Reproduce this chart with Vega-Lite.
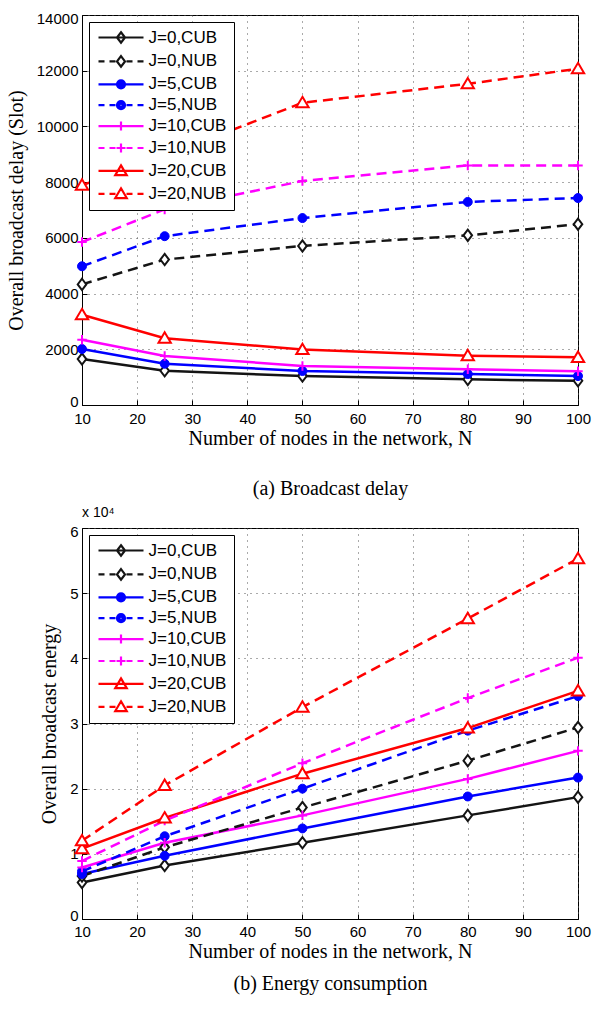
{
  "$schema": "https://vega.github.io/schema/vega-lite/v6.json",
  "background": "white",
  "padding": {"left": 5, "top": 10, "right": 10, "bottom": 5},
  "spacing": 6,
  "resolve": {"scale": {"stroke": "independent", "shape": "independent", "color": "independent"}},
  "config": {
    "font": "Liberation Sans",
    "view": {"stroke": "#000", "strokeWidth": 1},
    "axis": {
      "domainColor": "#000", "domainWidth": 1,
      "tickColor": "#000", "tickSize": -5, "tickWidth": 1,
      "labelPadding": 9, "labelFont": "Liberation Sans", "labelFontSize": 15, "labelColor": "#000", "labelFlush": false,
      "titleFont": "Liberation Serif", "titleFontSize": 20, "titleFontWeight": "normal", "titleColor": "#000",
      "gridColor": "#555", "gridDash": [1, 5], "gridOpacity": 1, "gridWidth": 1
    },
    "title": {"font": "Liberation Sans", "fontSize": 14, "fontWeight": "normal", "color": "#000"},
    "legend": {
      "orient": "top-left", "offset": 7, "title": null,
      "strokeColor": "#000", "fillColor": "#fff", "padding": 7,
      "labelFont": "Liberation Sans", "labelFontSize": 17, "labelColor": "#000",
      "symbolSize": 100, "symbolOffset": 16.5, "labelOffset": 19, "rowPadding": 2.9, "symbolStrokeWidth": 2.2
    }
  },
  "datasets": {
    "delay": [
      {"N": 10, "series": "J=0,CUB", "v": 1650}, {"N": 25, "series": "J=0,CUB", "v": 1230}, {"N": 50, "series": "J=0,CUB", "v": 1040}, {"N": 80, "series": "J=0,CUB", "v": 920}, {"N": 100, "series": "J=0,CUB", "v": 870},
      {"N": 10, "series": "J=0,NUB", "v": 4330}, {"N": 25, "series": "J=0,NUB", "v": 5220}, {"N": 50, "series": "J=0,NUB", "v": 5710}, {"N": 80, "series": "J=0,NUB", "v": 6090}, {"N": 100, "series": "J=0,NUB", "v": 6490},
      {"N": 10, "series": "J=5,CUB", "v": 2010}, {"N": 25, "series": "J=5,CUB", "v": 1480}, {"N": 50, "series": "J=5,CUB", "v": 1220}, {"N": 80, "series": "J=5,CUB", "v": 1110}, {"N": 100, "series": "J=5,CUB", "v": 1040},
      {"N": 10, "series": "J=5,NUB", "v": 4980}, {"N": 25, "series": "J=5,NUB", "v": 6060}, {"N": 50, "series": "J=5,NUB", "v": 6710}, {"N": 80, "series": "J=5,NUB", "v": 7290}, {"N": 100, "series": "J=5,NUB", "v": 7430},
      {"N": 10, "series": "J=10,CUB", "v": 2340}, {"N": 25, "series": "J=10,CUB", "v": 1760}, {"N": 50, "series": "J=10,CUB", "v": 1400}, {"N": 80, "series": "J=10,CUB", "v": 1280}, {"N": 100, "series": "J=10,CUB", "v": 1210},
      {"N": 10, "series": "J=10,NUB", "v": 5850}, {"N": 25, "series": "J=10,NUB", "v": 7020}, {"N": 50, "series": "J=10,NUB", "v": 8040}, {"N": 80, "series": "J=10,NUB", "v": 8600}, {"N": 100, "series": "J=10,NUB", "v": 8600},
      {"N": 10, "series": "J=20,CUB", "v": 3240}, {"N": 25, "series": "J=20,CUB", "v": 2400}, {"N": 50, "series": "J=20,CUB", "v": 1990}, {"N": 80, "series": "J=20,CUB", "v": 1770}, {"N": 100, "series": "J=20,CUB", "v": 1710},
      {"N": 10, "series": "J=20,NUB", "v": 7890}, {"N": 25, "series": "J=20,NUB", "v": 8930}, {"N": 50, "series": "J=20,NUB", "v": 10850}, {"N": 80, "series": "J=20,NUB", "v": 11530}, {"N": 100, "series": "J=20,NUB", "v": 12070}
    ],
    "energy": [
      {"N": 10, "series": "J=0,CUB", "v": 5600}, {"N": 25, "series": "J=0,CUB", "v": 8200}, {"N": 50, "series": "J=0,CUB", "v": 11700}, {"N": 80, "series": "J=0,CUB", "v": 15900}, {"N": 100, "series": "J=0,CUB", "v": 18700},
      {"N": 10, "series": "J=0,NUB", "v": 6600}, {"N": 25, "series": "J=0,NUB", "v": 11000}, {"N": 50, "series": "J=0,NUB", "v": 17100}, {"N": 80, "series": "J=0,NUB", "v": 24300}, {"N": 100, "series": "J=0,NUB", "v": 29400},
      {"N": 10, "series": "J=5,CUB", "v": 6900}, {"N": 25, "series": "J=5,CUB", "v": 9700}, {"N": 50, "series": "J=5,CUB", "v": 13900}, {"N": 80, "series": "J=5,CUB", "v": 18800}, {"N": 100, "series": "J=5,CUB", "v": 21700},
      {"N": 10, "series": "J=5,NUB", "v": 7300}, {"N": 25, "series": "J=5,NUB", "v": 12700}, {"N": 50, "series": "J=5,NUB", "v": 20000}, {"N": 80, "series": "J=5,NUB", "v": 28900}, {"N": 100, "series": "J=5,NUB", "v": 34200},
      {"N": 10, "series": "J=10,CUB", "v": 7900}, {"N": 25, "series": "J=10,CUB", "v": 11700}, {"N": 50, "series": "J=10,CUB", "v": 15900}, {"N": 80, "series": "J=10,CUB", "v": 21500}, {"N": 100, "series": "J=10,CUB", "v": 25800},
      {"N": 10, "series": "J=10,NUB", "v": 8900}, {"N": 25, "series": "J=10,NUB", "v": 15100}, {"N": 50, "series": "J=10,NUB", "v": 23900}, {"N": 80, "series": "J=10,NUB", "v": 33900}, {"N": 100, "series": "J=10,NUB", "v": 40100},
      {"N": 10, "series": "J=20,CUB", "v": 10800}, {"N": 25, "series": "J=20,CUB", "v": 15500}, {"N": 50, "series": "J=20,CUB", "v": 22300}, {"N": 80, "series": "J=20,CUB", "v": 29300}, {"N": 100, "series": "J=20,CUB", "v": 35000},
      {"N": 10, "series": "J=20,NUB", "v": 12000}, {"N": 25, "series": "J=20,NUB", "v": 20500}, {"N": 50, "series": "J=20,NUB", "v": 32500}, {"N": 80, "series": "J=20,NUB", "v": 46100}, {"N": 100, "series": "J=20,NUB", "v": 55300}
    ]
  },
  "vconcat": [
    {
      "width": 496,
      "height": 390,
      "data": {"name": "delay"},
      "encoding": {
        "x": {"field": "N", "type": "quantitative", "scale": {"domain": [10, 100], "nice": false},
              "axis": {"values": [10, 20, 30, 40, 50, 60, 70, 80, 90, 100], "labelPadding": 11, "title": ["Number of nodes in the network, N", "(a) Broadcast delay"], "titleLineHeight": 50, "titlePadding": 2, "grid": true}},
        "y": {"field": "v", "type": "quantitative", "scale": {"domain": [0, 14000], "nice": false},
              "axis": {"values": [0, 2000, 4000, 6000, 8000, 10000, 12000, 14000], "format": "d", "labelFlush": true, "labelFlushOffset": 4, "title": "Overall broadcast delay (Slot)", "titlePadding": 10, "grid": true}}
      },
      "layer": [
        {
          "transform": [{"filter": "indexof(datum.series, 'CUB') >= 0"}],
          "mark": {"type": "line", "strokeWidth": 2.5},
          "encoding": {
            "color": {"field": "series", "type": "nominal", "legend": null,
              "scale": {"domain": ["J=20,NUB", "J=20,CUB", "J=10,NUB", "J=10,CUB", "J=5,NUB", "J=5,CUB", "J=0,NUB", "J=0,CUB"],
                        "range": ["#ff0000", "#ff0000", "#ff00ff", "#ff00ff", "#0000ff", "#0000ff", "#141414", "#141414"]}}
          }
        },
        {
          "transform": [{"filter": "indexof(datum.series, 'NUB') >= 0"}],
          "mark": {"type": "line", "strokeWidth": 2.5, "strokeDash": [10, 6]},
          "encoding": {
            "color": {"field": "series", "type": "nominal", "legend": null}
          }
        },
        {
          "transform": [{"filter": "indexof(datum.series, 'J=0,') === 0"}],
          "mark": {"type": "point", "shape": "M0,-1.05L0.8,0L0,1.05L-0.8,0Z", "size": 115, "filled": false, "fill": "#ffffff", "stroke": "#141414", "strokeWidth": 2, "opacity": 1}
        },
        {
          "transform": [{"filter": "indexof(datum.series, 'J=5,') === 0"}],
          "mark": {"type": "point", "shape": "circle", "size": 80, "filled": true, "fill": "#0000ff", "stroke": "#0000ff", "strokeWidth": 1, "opacity": 1}
        },
        {
          "transform": [{"filter": "indexof(datum.series, 'J=10,') === 0"}],
          "mark": {"type": "point", "shape": "M-0.9,0H0.9M0,-0.9V0.9", "size": 110, "filled": false, "stroke": "#ff00ff", "strokeWidth": 2, "opacity": 1}
        },
        {
          "transform": [{"filter": "indexof(datum.series, 'J=20,') === 0"}],
          "mark": {"type": "point", "shape": "M0,-1.1L1.15,0.85L-1.15,0.85Z", "size": 115, "filled": false, "fill": "#ffffff", "stroke": "#ff0000", "strokeWidth": 2, "opacity": 1}
        },
        {
          "transform": [{"filter": "datum.N < 0"}],
          "mark": {"type": "point", "filled": false, "strokeWidth": 2.2, "opacity": 1},
          "encoding": {
            "stroke": {"field": "series", "type": "nominal",
              "scale": {"domain": ["J=0,CUB", "J=0,NUB", "J=5,CUB", "J=5,NUB", "J=10,CUB", "J=10,NUB", "J=20,CUB", "J=20,NUB"],
                        "range": ["#141414", "#141414", "#0000ff", "#0000ff", "#ff00ff", "#ff00ff", "#ff0000", "#ff0000"]}},
            "shape": {"field": "series", "type": "nominal",
              "scale": {"domain": ["J=0,CUB", "J=0,NUB", "J=5,CUB", "J=5,NUB", "J=10,CUB", "J=10,NUB", "J=20,CUB", "J=20,NUB"],
                        "range": [
                          "M-4.5,0H4.5M0,-1.05L0.8,0L0,1.05L-0.8,0Z",
                          "M-4.5,0H-3.3M-2.3,0H-1.1M1.1,0H2.3M3.3,0H4.5M0,-1.05L0.8,0L0,1.05L-0.8,0Z",
                          "M-4.5,0H4.5M0.8,0A0.8,0.8,0,1,1,-0.8,0A0.8,0.8,0,1,1,0.8,0M0.45,0A0.45,0.45,0,1,1,-0.45,0A0.45,0.45,0,1,1,0.45,0M0.12,0A0.12,0.12,0,1,1,-0.12,0A0.12,0.12,0,1,1,0.12,0",
                          "M-4.5,0H-3.3M-2.3,0H-1.1M1.1,0H2.3M3.3,0H4.5M0.8,0A0.8,0.8,0,1,1,-0.8,0A0.8,0.8,0,1,1,0.8,0M0.45,0A0.45,0.45,0,1,1,-0.45,0A0.45,0.45,0,1,1,0.45,0M0.12,0A0.12,0.12,0,1,1,-0.12,0A0.12,0.12,0,1,1,0.12,0",
                          "M-4.5,0H4.5M0,-0.9V0.9",
                          "M-4.5,0H-3.3M-2.3,0H-1.1M1.1,0H2.3M3.3,0H4.5M-0.9,0H0.9M0,-0.9V0.9",
                          "M-4.5,0H4.5M0,-1.1L1.15,0.85L-1.15,0.85Z",
                          "M-4.5,0H-3.3M-2.3,0H-1.1M1.1,0H2.3M3.3,0H4.5M0,-1.1L1.15,0.85L-1.15,0.85Z"
                        ]}}
          }
        }
      ]
    },
    {
      "width": 496,
      "height": 391,
      "data": {"name": "energy"},
      "title": {"text": "x 10⁴", "orient": "top", "anchor": "start", "frame": "group", "offset": 4},
      "encoding": {
        "x": {"field": "N", "type": "quantitative", "scale": {"domain": [10, 100], "nice": false},
              "axis": {"values": [10, 20, 30, 40, 50, 60, 70, 80, 90, 100], "labelPadding": 10, "title": ["Number of nodes in the network, N", "(b) Energy consumption"], "titleLineHeight": 32, "titlePadding": 2, "grid": true}},
        "y": {"field": "v", "type": "quantitative", "scale": {"domain": [0, 60000], "nice": false},
              "axis": {"values": [0, 10000, 20000, 30000, 40000, 50000, 60000], "labelExpr": "format(datum.value / 10000, 'd')", "labelFlush": true, "labelFlushOffset": 4, "title": "Overall broadcast energy", "titlePadding": 10, "grid": true}}
      },
      "layer": [
        {
          "transform": [{"filter": "indexof(datum.series, 'CUB') >= 0"}],
          "mark": {"type": "line", "strokeWidth": 2.5},
          "encoding": {
            "color": {"field": "series", "type": "nominal", "legend": null,
              "scale": {"domain": ["J=20,NUB", "J=20,CUB", "J=10,NUB", "J=10,CUB", "J=5,NUB", "J=5,CUB", "J=0,NUB", "J=0,CUB"],
                        "range": ["#ff0000", "#ff0000", "#ff00ff", "#ff00ff", "#0000ff", "#0000ff", "#141414", "#141414"]}}
          }
        },
        {
          "transform": [{"filter": "indexof(datum.series, 'NUB') >= 0"}],
          "mark": {"type": "line", "strokeWidth": 2.5, "strokeDash": [10, 6]},
          "encoding": {
            "color": {"field": "series", "type": "nominal", "legend": null}
          }
        },
        {
          "transform": [{"filter": "indexof(datum.series, 'J=0,') === 0"}],
          "mark": {"type": "point", "shape": "M0,-1.05L0.8,0L0,1.05L-0.8,0Z", "size": 115, "filled": false, "fill": "#ffffff", "stroke": "#141414", "strokeWidth": 2, "opacity": 1}
        },
        {
          "transform": [{"filter": "indexof(datum.series, 'J=5,') === 0"}],
          "mark": {"type": "point", "shape": "circle", "size": 80, "filled": true, "fill": "#0000ff", "stroke": "#0000ff", "strokeWidth": 1, "opacity": 1}
        },
        {
          "transform": [{"filter": "indexof(datum.series, 'J=10,') === 0"}],
          "mark": {"type": "point", "shape": "M-0.9,0H0.9M0,-0.9V0.9", "size": 110, "filled": false, "stroke": "#ff00ff", "strokeWidth": 2, "opacity": 1}
        },
        {
          "transform": [{"filter": "indexof(datum.series, 'J=20,') === 0"}],
          "mark": {"type": "point", "shape": "M0,-1.1L1.15,0.85L-1.15,0.85Z", "size": 115, "filled": false, "fill": "#ffffff", "stroke": "#ff0000", "strokeWidth": 2, "opacity": 1}
        },
        {
          "transform": [{"filter": "datum.N < 0"}],
          "mark": {"type": "point", "filled": false, "strokeWidth": 2.2, "opacity": 1},
          "encoding": {
            "stroke": {"field": "series", "type": "nominal",
              "scale": {"domain": ["J=0,CUB", "J=0,NUB", "J=5,CUB", "J=5,NUB", "J=10,CUB", "J=10,NUB", "J=20,CUB", "J=20,NUB"],
                        "range": ["#141414", "#141414", "#0000ff", "#0000ff", "#ff00ff", "#ff00ff", "#ff0000", "#ff0000"]}},
            "shape": {"field": "series", "type": "nominal",
              "scale": {"domain": ["J=0,CUB", "J=0,NUB", "J=5,CUB", "J=5,NUB", "J=10,CUB", "J=10,NUB", "J=20,CUB", "J=20,NUB"],
                        "range": [
                          "M-4.5,0H4.5M0,-1.05L0.8,0L0,1.05L-0.8,0Z",
                          "M-4.5,0H-3.3M-2.3,0H-1.1M1.1,0H2.3M3.3,0H4.5M0,-1.05L0.8,0L0,1.05L-0.8,0Z",
                          "M-4.5,0H4.5M0.8,0A0.8,0.8,0,1,1,-0.8,0A0.8,0.8,0,1,1,0.8,0M0.45,0A0.45,0.45,0,1,1,-0.45,0A0.45,0.45,0,1,1,0.45,0M0.12,0A0.12,0.12,0,1,1,-0.12,0A0.12,0.12,0,1,1,0.12,0",
                          "M-4.5,0H-3.3M-2.3,0H-1.1M1.1,0H2.3M3.3,0H4.5M0.8,0A0.8,0.8,0,1,1,-0.8,0A0.8,0.8,0,1,1,0.8,0M0.45,0A0.45,0.45,0,1,1,-0.45,0A0.45,0.45,0,1,1,0.45,0M0.12,0A0.12,0.12,0,1,1,-0.12,0A0.12,0.12,0,1,1,0.12,0",
                          "M-4.5,0H4.5M0,-0.9V0.9",
                          "M-4.5,0H-3.3M-2.3,0H-1.1M1.1,0H2.3M3.3,0H4.5M-0.9,0H0.9M0,-0.9V0.9",
                          "M-4.5,0H4.5M0,-1.1L1.15,0.85L-1.15,0.85Z",
                          "M-4.5,0H-3.3M-2.3,0H-1.1M1.1,0H2.3M3.3,0H4.5M0,-1.1L1.15,0.85L-1.15,0.85Z"
                        ]}}
          }
        }
      ]
    }
  ]
}
